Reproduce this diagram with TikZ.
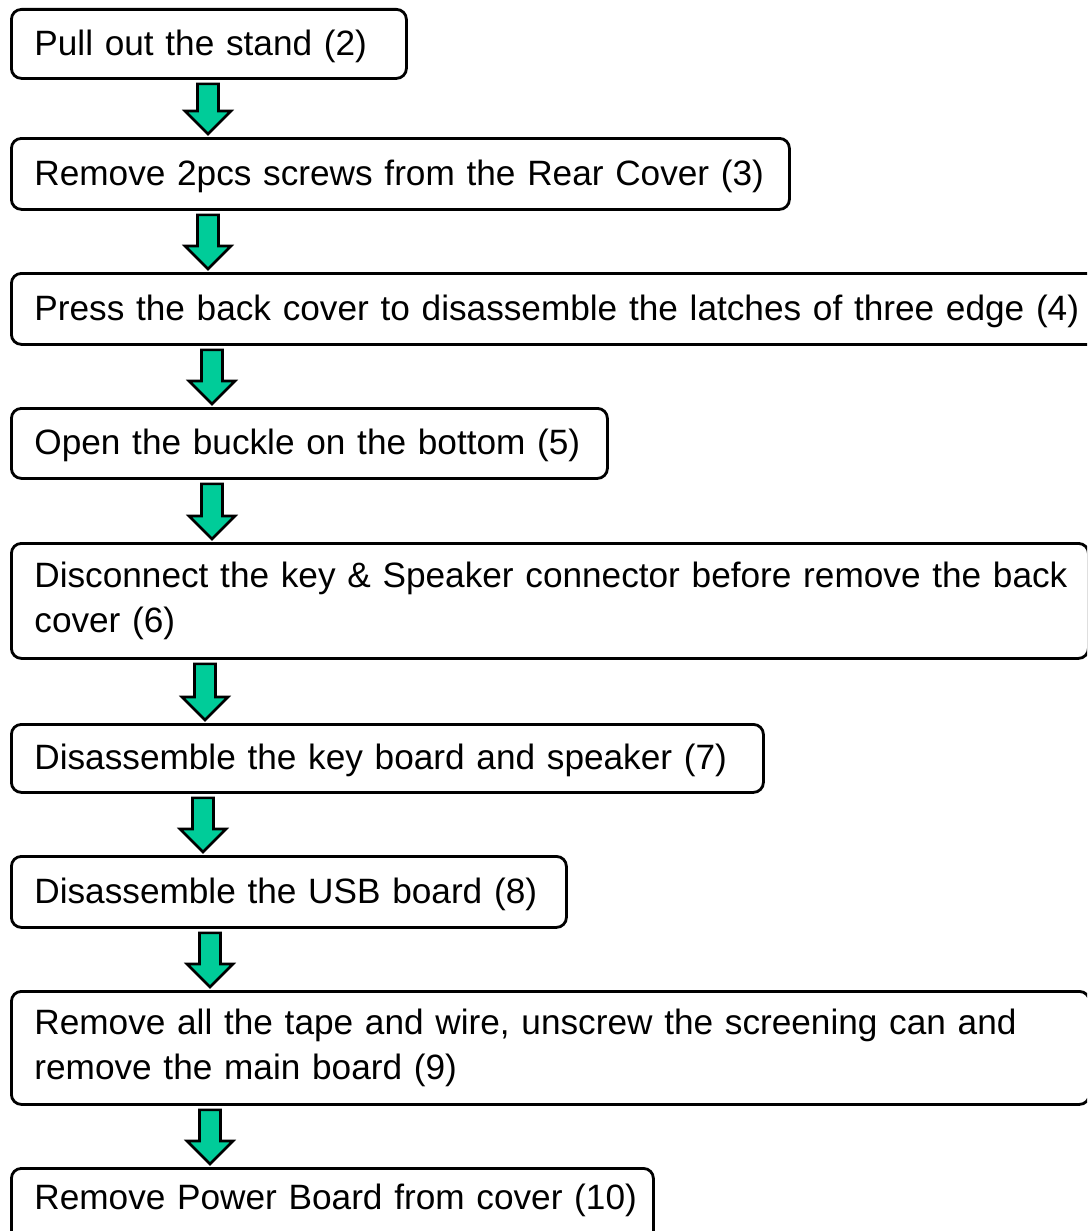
\documentclass[tikz,border=0pt]{standalone}
\usepackage{fontspec}
\setmainfont{Liberation Sans}
\usetikzlibrary{calc}
\definecolor{arrgreen}{RGB}{0,204,153}
\tikzset{
  stepbox/.style={draw=black, line width=2.8pt, rounded corners=10pt, anchor=north west,
    inner xsep=23pt, inner ysep=0pt, align=left,
    font=\fontsize{35.2}{45}\selectfont},
  onerow/.style={text depth=2.5pt},
  flowarr/.style={draw=black, fill=arrgreen, line width=2.6pt, line join=miter}
}
\newcommand\flowarrow[3]{%
  \draw[flowarr] let \p1=(#1.south), \p2=(#2.north) in
    (#3-10.5,\y1-4) -- (#3+10.5,\y1-4) -- (#3+10.5,\y2+26) -- (#3+23,\y2+26)
    -- (#3,\y2+3) -- (#3-23,\y2+26) -- (#3-10.5,\y2+26) -- cycle;}
\begin{document}
\begin{tikzpicture}[x=1pt,y=1pt]
\useasboundingbox (0,0) rectangle (1087,-1231);
\clip (0,0) rectangle (1087,-1231);
\fill[white] (0,0) rectangle (1087,-1231);
\node[stepbox, onerow, minimum width=395, minimum height=69, text width=349] (b1) at (10,-8) {\mbox{Pull out the stand (2)}};
\node[stepbox, onerow, minimum width=778, minimum height=71, text width=732] (b2) at (10,-137) {\mbox{Remove 2pcs screws from the Rear Cover (3)}};
\node[stepbox, onerow, minimum width=1095, minimum height=71, text width=1049] (b3) at (10,-272) {\mbox{Press the back cover to disassemble the latches of three edge (4)}};
\node[stepbox, onerow, minimum width=596, minimum height=70, text width=550] (b4) at (10,-407) {\mbox{Open the buckle on the bottom (5)}};
\node[stepbox, minimum width=1077, minimum height=115, text width=1031] (b5) at (10,-542) {\mbox{Disconnect the key \& Speaker connector before remove the back}\\\mbox{cover (6)}};
\node[stepbox, onerow, minimum width=752, minimum height=68, text width=706] (b6) at (10,-723) {\mbox{Disassemble the key board and speaker (7)}};
\node[stepbox, onerow, minimum width=555, minimum height=71, text width=509] (b7) at (10,-855) {\mbox{Disassemble the USB board (8)}};
\node[stepbox, minimum width=1078, minimum height=113, text width=1032] (b8) at (10,-990) {\mbox{Remove all the tape and wire, unscrew the screening can and}\\\mbox{remove the main board (9)}};
\node[stepbox, minimum width=642, minimum height=80, text width=596, text depth=24pt] (b9) at (10,-1167) {\mbox{Remove Power Board from cover (10)}};
\flowarrow{b1}{b2}{208}
\flowarrow{b2}{b3}{208}
\flowarrow{b3}{b4}{212}
\flowarrow{b4}{b5}{212}
\flowarrow{b5}{b6}{205}
\flowarrow{b6}{b7}{203}
\flowarrow{b7}{b8}{210}
\flowarrow{b8}{b9}{210}
\end{tikzpicture}
\end{document}
